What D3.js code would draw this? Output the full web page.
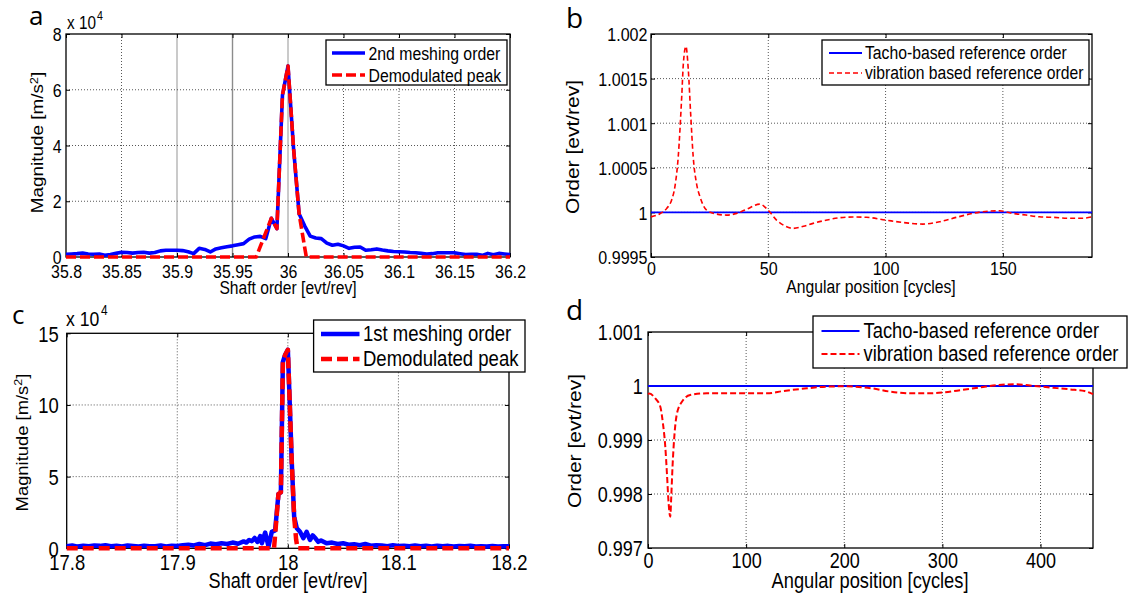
<!DOCTYPE html>
<html>
<head>
<meta charset="utf-8">
<script src="https://cdn.jsdelivr.net/npm/d3@7"></script>
<style>
  body { margin: 0; background: #fff; }
  svg { display: block; }
</style>
</head>
<body>
<script>
// ---- panel a : 2nd meshing order (magnitude x 10^4 m/s^2) ----
let shaftOrderA = [35.8,35.805,35.81,35.815,35.82,35.825,35.83,35.835,35.84,35.845,
  35.85,35.855,35.86,35.865,35.87,35.875,35.88,35.885,35.89,35.895,
  35.9,35.905,35.91,35.915,35.92,35.925,35.93,35.935,35.94,35.945,
  35.95,35.955,35.96,35.965,35.97,35.975,35.98,35.985,35.99,35.995,
  36,36.005,36.01,36.015,36.02,36.025,36.03,36.035,36.04,36.045,
  36.05,36.055,36.06,36.065,36.07,36.075,36.08,36.085,36.09,36.095,
  36.1,36.105,36.11,36.115,36.12,36.125,36.13,36.135,36.14,36.145,
  36.15,36.155,36.16,36.165,36.17,36.175,36.18,36.185,36.19,36.195,36.2];
let meshA = [0.10,0.11,0.12,0.14,0.11,0.10,0.11,0.06,0.09,0.13,
  0.17,0.16,0.14,0.16,0.17,0.14,0.16,0.22,0.24,0.24,
  0.24,0.23,0.19,0.12,0.31,0.27,0.18,0.29,0.33,0.37,
  0.40,0.44,0.48,0.64,0.72,0.74,0.66,1.39,1.02,5.80,
  6.85,3.90,1.55,1.12,0.75,0.68,0.66,0.50,0.42,0.46,
  0.40,0.31,0.35,0.36,0.24,0.26,0.29,0.25,0.22,0.20,
  0.19,0.18,0.16,0.15,0.13,0.11,0.12,0.15,0.15,0.15,
  0.15,0.12,0.09,0.10,0.10,0.06,0.13,0.08,0.13,0.11,0.09];
let demodOrderA = [35.8,35.9714,35.975,35.98,35.985,35.99,35.995,36,36.005,36.01,36.015,36.0165,36.2];
let demodA = [0,0,0.37,0.88,1.39,1.02,5.80,6.85,3.90,1.55,0.35,0,0];

// ---- panel b : reference order vs angular position ----
let tachoAngleB = [0,188];
let tachoB = [1,1];
let angleB = [0,3.8,6.7,8.8,10.2,11.6,13.1,13.8,14.9,15.9,16.9,18,19.4,20.9,23.7,28,32.2,36.5,40.7,46.4,
  49.9,53.5,57,60.6,65,69.1,75,80.4,86,91.8,100,108.8,115.9,123,130.1,137.2,144.3,148.5,154.2,159.9,
  165.5,171.9,178,184,188];
let vibB = [0.99995,0.999985,1.000045,1.00014,1.00029,1.00062,1.0013,1.00167,1.00186,1.0016,
  1.00111,1.00062,1.000325,1.000175,1.000026,0.999981,0.99997,0.999989,1.000034,1.000093,
  1.000026,0.999914,0.99985,0.999821,0.999845,0.999877,0.999915,0.99994,0.999948,0.999945,
  0.999914,0.999883,0.999869,0.999895,0.999944,0.999989,1.000015,1.000018,0.999989,0.99997,
  0.999951,0.999944,0.999935,0.999935,0.99995];

// ---- panel c : 1st meshing order (magnitude x 10^4 m/s^2) ----
let shaftOrderC = [17.8,17.805,17.81,17.815,17.82,17.825,17.83,17.835,17.84,17.845,
  17.85,17.855,17.86,17.865,17.87,17.875,17.88,17.885,17.89,17.895,
  17.9,17.905,17.91,17.915,17.92,17.925,17.93,17.935,17.94,17.945,
  17.95,17.955,17.96,17.9625,17.965,17.9675,17.97,17.9725,17.975,17.9765,
  17.9795,17.9825,17.9855,17.9885,17.9915,17.9937,17.9955,17.9976,18,18.0014,
  18.0036,18.0057,18.0081,18.011,18.014,18.017,18.02,18.0225,18.025,18.0275,
  18.03,18.035,18.04,18.045,18.05,18.055,18.06,18.065,18.07,18.075,
  18.08,18.085,18.09,18.095,18.1,18.105,18.11,18.115,18.12,18.125,
  18.13,18.135,18.14,18.145,18.15,18.155,18.16,18.165,18.17,18.175,
  18.18,18.185,18.19,18.195,18.2];
let meshC = [0.15,0.20,0.12,0.18,0.14,0.20,0.17,0.22,0.15,0.18,
  0.13,0.20,0.16,0.12,0.18,0.14,0.15,0.20,0.13,0.18,
  0.16,0.22,0.25,0.20,0.30,0.22,0.33,0.28,0.35,0.30,
  0.40,0.32,0.48,0.40,0.58,0.50,0.72,0.45,0.85,0.35,
  1.10,0.12,1.15,1.25,3.80,3.90,13.0,13.5,13.85,10.8,
  5.9,2.2,1.4,1.15,0.70,1.15,0.58,0.90,0.70,0.45,
  0.55,0.35,0.40,0.30,0.35,0.25,0.28,0.22,0.30,0.18,
  0.22,0.20,0.15,0.22,0.16,0.18,0.14,0.20,0.15,0.18,
  0.13,0.18,0.14,0.17,0.12,0.16,0.14,0.18,0.12,0.15,
  0.13,0.16,0.12,0.15,0.14];
let demodOrderC = [17.8,17.9875,17.9915,17.9937,17.9955,17.9976,18,18.0014,18.0036,18.0057,18.0075,18.0088,18.2];
let demodC = [0,0,3.8,3.9,13.0,13.5,13.85,10.8,5.9,2.2,0.6,0,0];

// ---- panel d : reference order vs angular position ----
let tachoAngleD = [0,453.5];
let tachoD = [1,1];
let angleD = [0,1.6,7.4,12.5,15.2,17.6,19.3,21,22.7,23.7,25,26.8,29.5,34.6,43,60,94,121,138,162,
  182,200,228,247,269,287,302,320,339,357,375,394,412,430,445,453.5];
let vibD = [0.99985,0.99986,0.99977,0.99962,0.99931,0.99888,0.99838,0.99783,0.99758,0.99795,
  0.99851,0.99906,0.99949,0.99971,0.999833,0.999865,0.999865,0.999865,0.999907,0.999957,
  0.999988,0.999995,0.999957,0.999895,0.999864,0.999864,0.999883,0.999926,0.999975,1.000019,
  1.000031,1.0,0.999969,0.999938,0.999907,0.99985];

// ---- tick labels ----
let xTicksA = [35.8,35.85,35.9,35.95,36,36.05,36.1,36.15,36.2];
let xTickLabelsA = ["35.8","35.85","35.9","35.95","36","36.05","36.1","36.15","36.2"];
let yTicksA = [0,2,4,6,8];
let xTicksB = [0,50,100,150];
let yTicksB = [0.9995,1,1.0005,1.001,1.0015,1.002];
let yTickLabelsB = ["0.9995","1","1.0005","1.001","1.0015","1.002"];
let xTicksC = [17.8,17.9,18,18.1,18.2];
let yTicksC = [0,5,10,15];
let xTicksD = [0,100,200,300,400];
let yTicksD = [0.997,0.998,0.999,1,1.001];
let yTickLabelsD = ["0.997","0.998","0.999","1","1.001"];

const SX = 0.85;   // the original figure is squeezed horizontally
const FONT = "'Liberation Sans', Arial, Helvetica, sans-serif";
const BLUE = "#0000ff", RED = "#ff0000";

let svg = d3.select("body").append("svg")
  .attr("width", 1131)
  .attr("height", 598);

function hText(parent, x, y, str, size, anchor) {
  return parent.append("text")
    .attr("transform", `translate(${x},${y}) scale(${SX},1)`)
    .attr("font-family", FONT)
    .attr("font-size", size)
    .attr("text-anchor", anchor || "start")
    .text(str);
}

function panel(cfg) {
  let g = svg.append("g");
  let x = d3.scaleLinear().domain(cfg.xDomain).range([cfg.left, cfg.right]);
  let y = d3.scaleLinear().domain(cfg.yDomain).range([cfg.bottom, cfg.top]);

  // dotted grid
  g.selectAll(".vg").data(cfg.xTicks.filter(d => d > cfg.xDomain[0] && d < cfg.xDomain[1]))
    .enter().append("line")
    .attr("x1", d => x(d)).attr("x2", d => x(d))
    .attr("y1", cfg.top).attr("y2", cfg.bottom)
    .attr("stroke", d => (cfg.solidGrid && cfg.solidGrid[d]) || "#444")
    .attr("stroke-width", d => (cfg.solidGrid && cfg.solidGrid[d]) ? 1.4 : 0.9)
    .attr("stroke-dasharray", d => (cfg.solidGrid && cfg.solidGrid[d]) ? null : "1,2");
  g.selectAll(".hg").data(cfg.yTicks.filter(d => d > cfg.yDomain[0] && d < cfg.yDomain[1]))
    .enter().append("line")
    .attr("x1", cfg.left).attr("x2", cfg.right)
    .attr("y1", d => y(d)).attr("y2", d => y(d))
    .attr("stroke", "#444").attr("stroke-width", 0.9)
    .attr("stroke-dasharray", "1,2");

  // axes with inward ticks
  let xl = cfg.xTickLabels || cfg.xTicks.map(String);
  let yl = cfg.yTickLabels || cfg.yTicks.map(String);
  let bottom = g.append("g").attr("transform", `translate(0,${cfg.bottom})`)
    .call(d3.axisBottom(x).tickValues(cfg.xTicks).tickFormat((d, i) => xl[i]).tickSizeInner(-4).tickSizeOuter(0));
  bottom.select(".domain").remove();
  bottom.selectAll("text")
    .attr("y", cfg.xLabOff).attr("dy", null)
    .attr("transform", `scale(${SX},1)`)
    .attr("font-family", FONT).attr("font-size", cfg.tickSize);

  let left = g.append("g").attr("transform", `translate(${cfg.left},0)`)
    .call(d3.axisLeft(y).tickValues(cfg.yTicks).tickFormat((d, i) => yl[i]).tickSizeInner(-4).tickSizeOuter(0));
  left.select(".domain").remove();
  left.selectAll("text")
    .attr("x", -cfg.yLabGap / SX).attr("dy", "0.36em")
    .attr("transform", `scale(${SX},1)`)
    .attr("font-family", FONT).attr("font-size", cfg.tickSize);

  let top = g.append("g").attr("transform", `translate(0,${cfg.top})`)
    .call(d3.axisTop(x).tickValues(cfg.xTicks).tickFormat("").tickSizeInner(-4).tickSizeOuter(0));
  top.select(".domain").remove();
  let right = g.append("g").attr("transform", `translate(${cfg.right},0)`)
    .call(d3.axisRight(y).tickValues(cfg.yTicks).tickFormat("").tickSizeInner(-4).tickSizeOuter(0));
  right.select(".domain").remove();

  g.append("rect")
    .attr("x", cfg.left).attr("y", cfg.top)
    .attr("width", cfg.right - cfg.left).attr("height", cfg.bottom - cfg.top)
    .attr("fill", "none").attr("stroke", "#000").attr("stroke-width", 1.3);

  return {g: g, x: x, y: y};
}

function drawLine(p, xs, ys, color, width, dash, curve) {
  let line = d3.line().x(d => p.x(d[0])).y(d => p.y(d[1]));
  if (curve) line.curve(curve);
  p.g.append("path")
    .datum(d3.zip(xs, ys))
    .attr("d", line)
    .attr("fill", "none")
    .attr("stroke", color)
    .attr("stroke-width", width)
    .attr("stroke-linejoin", "round")
    .attr("stroke-dasharray", dash);
}

function legend(p, L) {
  p.g.append("rect")
    .attr("x", L.x0).attr("y", L.y0)
    .attr("width", L.x1 - L.x0).attr("height", L.y1 - L.y0)
    .attr("fill", "#fff").attr("stroke", "#000").attr("stroke-width", 1.3);
  L.items.forEach(it => {
    p.g.append("line")
      .attr("x1", L.lx0).attr("x2", L.lx1)
      .attr("y1", it.y).attr("y2", it.y)
      .attr("stroke", it.color).attr("stroke-width", it.width)
      .attr("stroke-dasharray", it.dash);
    hText(p.g, L.tx, it.base, it.label, L.size);
  });
}

function yLabel(x, y, size, main, sup, tail) {
  let t = svg.append("text")
    .attr("transform", `translate(${x},${y}) rotate(-90) scale(1,${SX})`)
    .attr("font-family", FONT).attr("font-size", size)
    .attr("text-anchor", "middle");
  t.append("tspan").text(main);
  if (sup) {
    t.append("tspan").attr("font-size", "0.68em").attr("dy", "-0.5em").text(sup);
    t.append("tspan").attr("dy", "0.34em").text(tail);
  }
}

function panelLetter(x, y, s, size) {
  svg.append("text").attr("x", x).attr("y", y)
    .attr("font-family", "'Open Sans', 'DejaVu Sans', sans-serif")
    .attr("font-size", size).text(s);
}

// ---------------- panel a ----------------
let pa = panel({
  left: 66, right: 510, top: 34, bottom: 257,
  xDomain: [35.8, 36.2], yDomain: [0, 8],
  xTicks: xTicksA, xTickLabels: xTickLabelsA, yTicks: yTicksA,
  tickSize: 18.7, xLabOff: 21, yLabGap: 4.5,
  solidGrid: {"35.9": "#b4b4b4", "36": "#b4b4b4", "35.95": "#8c8c8c"}
});
drawLine(pa, shaftOrderA, meshA, BLUE, 3.6, null);
drawLine(pa, demodOrderA, demodA, RED, 3.6, "10,4");
legend(pa, {x0: 326, x1: 507, y0: 40, y1: 85, lx0: 332, lx1: 365, tx: 368.5, size: 18.6,
  items: [
    {y: 53, base: 59.5, label: "2nd meshing order", color: BLUE, width: 3.6, dash: null},
    {y: 75, base: 81.5, label: "Demodulated peak", color: RED, width: 3.6, dash: "10,4"}
  ]});
hText(svg, 288, 293.5, "Shaft order [evt/rev]", 18.4, "middle");
yLabel(43, 142.5, 18.9, "Magnitude [m/s", "2", "]");
let xa = hText(svg, 67, 29, "x 10", 18);
hText(svg, 97, 19.5, "4", 12.5);
panelLetter(29, 25, "a", 26);

// ---------------- panel b ----------------
let pb = panel({
  left: 651, right: 1092, top: 34, bottom: 257,
  xDomain: [0, 188], yDomain: [0.9995, 1.002],
  xTicks: xTicksB, yTicks: yTicksB, yTickLabels: yTickLabelsB,
  tickSize: 18.9, xLabOff: 18, yLabGap: 3.6
});
drawLine(pb, tachoAngleB, tachoB, BLUE, 1.8, null);
drawLine(pb, angleB, vibB, RED, 1.6, "5,3", d3.curveMonotoneX);
legend(pb, {x0: 822, x1: 1089, y0: 40, y1: 85, lx0: 829, lx1: 862, tx: 865, size: 18.5,
  items: [
    {y: 53, base: 59.3, label: "Tacho-based reference order", color: BLUE, width: 1.8, dash: null},
    {y: 73, base: 79.3, label: "vibration based reference order", color: RED, width: 1.6, dash: "5,3"}
  ]});
hText(svg, 871, 293, "Angular position [cycles]", 18.5, "middle");
yLabel(579, 147, 21, "Order [evt/rev]");
panelLetter(566, 28, "b", 28);

// ---------------- panel c ----------------
let pc = panel({
  left: 66.7, right: 509, top: 333.3, bottom: 548.3,
  xDomain: [17.8, 18.2], yDomain: [0, 15],
  xTicks: xTicksC, yTicks: yTicksC,
  tickSize: 21.7, xLabOff: 22, yLabGap: 8
});
drawLine(pc, shaftOrderC, meshC, BLUE, 4.5, null);
drawLine(pc, demodOrderC, demodC, RED, 4.5, "11,5");
legend(pc, {x0: 313.6, x1: 525, y0: 320, y1: 372, lx0: 321, lx1: 359.5, tx: 363, size: 21.8,
  items: [
    {y: 334, base: 341, label: "1st meshing order", color: BLUE, width: 4.5, dash: null},
    {y: 359, base: 365.5, label: "Demodulated peak", color: RED, width: 4.5, dash: "11,5"}
  ]});
hText(svg, 288, 588, "Shaft order [evt/rev]", 21.3, "middle");
yLabel(27.5, 442.5, 18.4, "Magnitude [m/s", "2", "]");
hText(svg, 66, 326, "x 10", 20.7);
hText(svg, 101, 315, "4", 14);
panelLetter(12, 324, "c", 26);

// ---------------- panel d ----------------
let pd = panel({
  left: 648, right: 1093, top: 332, bottom: 548,
  xDomain: [0, 453.5], yDomain: [0.997, 1.001],
  xTicks: xTicksD, yTicks: yTicksD, yTickLabels: yTickLabelsD,
  tickSize: 21.2, xLabOff: 20.5, yLabGap: 5.3
});
drawLine(pd, tachoAngleD, tachoD, BLUE, 2.2, null);
drawLine(pd, angleD, vibD, RED, 2, "6,3", d3.curveMonotoneX);
legend(pd, {x0: 813, x1: 1127, y0: 316, y1: 368, lx0: 821.5, lx1: 859.5, tx: 863.5, size: 21.6,
  items: [
    {y: 331, base: 337.5, label: "Tacho-based reference order", color: BLUE, width: 2.2, dash: null},
    {y: 354, base: 361, label: "vibration based reference order", color: RED, width: 2, dash: "6,3"}
  ]});
hText(svg, 870, 588, "Angular position [cycles]", 21.5, "middle");
yLabel(581, 441, 21, "Order [evt/rev]");
panelLetter(566, 320, "d", 28);
</script>
</body>
</html>
